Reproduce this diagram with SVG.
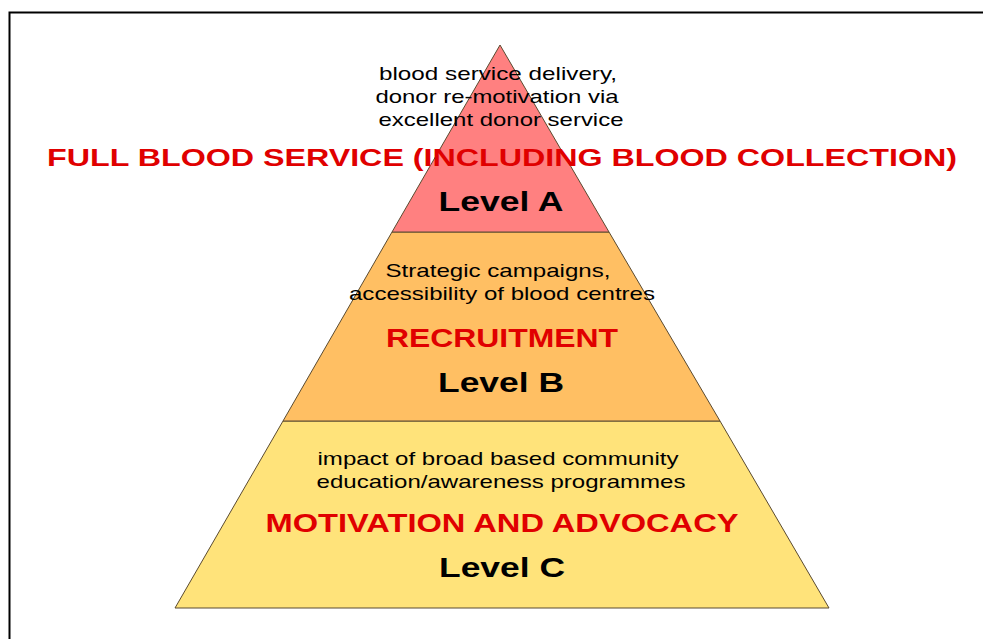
<svg xmlns="http://www.w3.org/2000/svg" width="983" height="639" viewBox="0 0 983 639">
<style>
.tier{stroke:#5a4a30;stroke-width:1}
text{font-family:"Liberation Sans",Arial,sans-serif;text-anchor:middle}
.desc{font-size:19px;fill:#000}
.head{font-size:25px;font-weight:bold;fill:#e00000}
.lvl{font-size:28px;font-weight:bold;fill:#000}
</style>
<rect width="983" height="639" fill="#fff"/>
<path d="M9.5,639 V12.5 H983" fill="none" stroke="#000" stroke-width="2"/>
<g id="levelC">
<polygon class="tier" points="283,421 720,421 829,608 175,608" fill="#ffe37a"/>
<text class="desc" x="498" y="465" textLength="361" lengthAdjust="spacingAndGlyphs">impact of broad based community</text>
<text class="desc" x="501" y="488" textLength="369" lengthAdjust="spacingAndGlyphs">education/awareness programmes</text>
<text class="head" x="502" y="532" textLength="473" lengthAdjust="spacingAndGlyphs">MOTIVATION AND ADVOCACY</text>
<text class="lvl" x="502" y="577" textLength="126" lengthAdjust="spacingAndGlyphs">Level C</text>
</g>
<g id="levelB">
<polygon class="tier" points="392,232 609,232 720,421 283,421" fill="#ffbf63"/>
<text class="desc" x="498" y="277" textLength="225" lengthAdjust="spacingAndGlyphs">Strategic campaigns,</text>
<text class="desc" x="502" y="300" textLength="306" lengthAdjust="spacingAndGlyphs">accessibility of blood centres</text>
<text class="head" x="502" y="347" textLength="232" lengthAdjust="spacingAndGlyphs">RECRUITMENT</text>
<text class="lvl" x="501" y="392" textLength="126" lengthAdjust="spacingAndGlyphs">Level B</text>
</g>
<g id="levelA">
<polygon class="tier" points="500,45 609,232 392,232" fill="#ff8080"/>
<text class="desc" x="498" y="80" textLength="238" lengthAdjust="spacingAndGlyphs">blood service delivery,</text>
<text class="desc" x="497" y="103" textLength="243" lengthAdjust="spacingAndGlyphs">donor re-motivation via</text>
<text class="desc" x="501" y="126" textLength="245" lengthAdjust="spacingAndGlyphs">excellent donor service</text>
<text class="head" x="502" y="166" style="font-size:24px" textLength="910" lengthAdjust="spacingAndGlyphs">FULL BLOOD SERVICE (INCLUDING BLOOD COLLECTION)</text>
<text class="lvl" x="501" y="211" textLength="125" lengthAdjust="spacingAndGlyphs">Level A</text>
</g>
<g id="connectors"/>
</svg>
